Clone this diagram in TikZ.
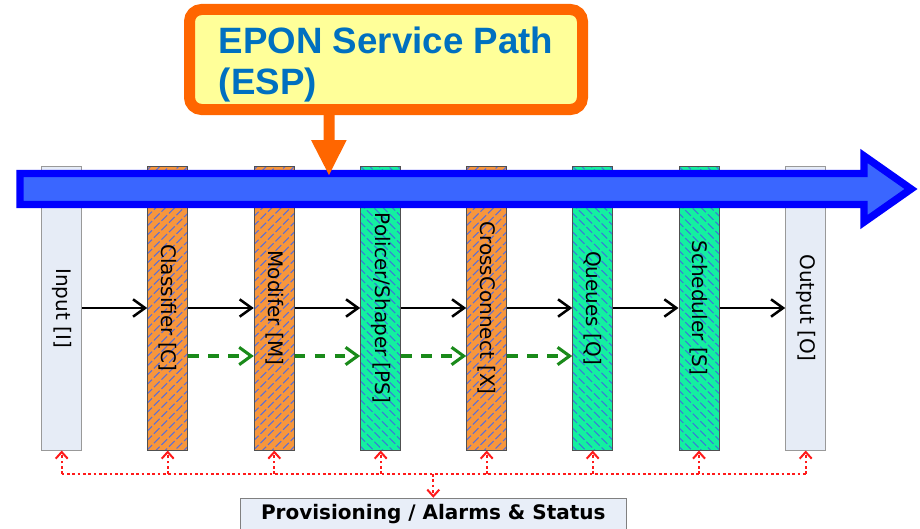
\documentclass[tikz,border=0pt]{standalone}
\usepackage{fontspec}
\newfontfamily\barfont{DejaVu Sans}
\newfontfamily\espfont{Liberation Sans}
\usetikzlibrary{arrows.meta}

\definecolor{orfill}{HTML}{F7963C}
\definecolor{grfill}{HTML}{14F0A0}
\definecolor{orhatch}{HTML}{5A6ED8}
\definecolor{grhatch}{HTML}{3A7AD8}
\definecolor{iofill}{HTML}{E6ECF6}
\definecolor{barline}{HTML}{505050}
\definecolor{espblue}{HTML}{0070C0}
\definecolor{esporange}{HTML}{FF6600}
\definecolor{espyellow}{HTML}{FFFF99}
\definecolor{pathfill}{HTML}{3A66FF}
\definecolor{pathline}{HTML}{0000FF}
\definecolor{provred}{HTML}{FF1A1A}
\definecolor{ctlgreen}{HTML}{1A8A1A}
\definecolor{provfill}{HTML}{E8EEF8}

\tikzset{
  bar/.style={draw=barline, line width=0.75pt, minimum width=30pt, minimum height=213pt, inner sep=0pt},
  barlabel/.style={label={[rotate=-90,font=\barfont\fontsize{15pt}{18pt}\selectfont]center:{#1}}},
  hatch/.style={draw=#1, line width=0.8pt, dash pattern=on 6pt off 2pt},
  iobar/.style={bar, draw=gray!80, fill=iofill, barlabel={#1}},
  orbar/.style={bar, fill=orfill, barlabel={#1},
    path picture={\foreach \k in {-19,...,19}{
      \draw[hatch=orhatch] ([shift={({-16pt},{\k*7pt-16pt})}]path picture bounding box.center) -- ++(32pt,32pt);}}},
  grbar/.style={bar, fill=grfill, barlabel={#1},
    path picture={\foreach \k in {-19,...,19}{
      \draw[hatch=grhatch] ([shift={({-16pt},{\k*7pt+16pt})}]path picture bounding box.center) -- ++(32pt,-32pt);}}},
  flow/.style={draw=black, line width=1.9pt, -{Straight Barb[length=9pt,width=13pt]}},
  ctl/.style={draw=ctlgreen, line width=2.3pt, dash pattern=on 8pt off 7pt, -{Straight Barb[length=9pt,width=13pt]}},
  prov/.style={draw=provred, line width=1.5pt, dash pattern=on 2pt off 2pt},
  provtip/.style={prov, -{Straight Barb[length=5pt,width=9pt]}},
  espline/.style={draw=pathline, fill=pathfill, line width=5.6pt, miter limit=10},
  espbox/.style={draw=esporange, fill=espyellow, line width=8.25pt, rounded corners=9pt,
    minimum width=294.75pt, minimum height=75pt, align=left, inner sep=0pt,
    text=espblue, font=\espfont\bfseries\fontsize{27.5pt}{30.75pt}\selectfont},
  provbox/.style={draw=gray, fill=provfill, line width=1.1pt, minimum width=289.5pt, minimum height=24pt,
    inner sep=0pt, font=\barfont\bfseries\fontsize{15pt}{18pt}\selectfont}
}

\begin{document}
\begin{tikzpicture}[x=0.75pt,y=-0.75pt]
    \useasboundingbox (0,0) rectangle (920,528);
    \clip (0,0) rectangle (920,528);

    % === Blocks ===
    \node[iobar={Input [I]}]          (inp)  at (61.7,308)  {};
    \node[orbar={Classifier [C]}]     (clsf) at (167.7,308) {};
    \node[orbar={Modifer [M]}]        (modf) at (274.3,308) {};
    \node[grbar={Policer/Shaper [PS]}] (pols) at (380.7,308) {};
    \node[orbar={CrossConnect [X]}]   (xcon) at (486.7,308) {};
    \node[grbar={Queues [Q]}]         (que)  at (592.7,308) {};
    \node[grbar={Scheduler [S]}]      (sch)  at (699,308)   {};
    \node[iobar={Output [O]}]         (outp) at (805.7,308) {};

    % data flow
    \draw[flow] (inp) -- (clsf);
    \draw[flow] (clsf) -- (modf);
    \draw[flow] (modf) -- (pols);
    \draw[flow] (pols) -- (xcon);
    \draw[flow] (xcon) -- (que);
    \draw[flow] (que) -- (sch);
    \draw[flow] (sch) -- (outp);

    % dashed green path
    \draw[ctl] ([yshift=-36pt]clsf.east) -- ([yshift=-36pt]modf.west);
    \draw[ctl] ([yshift=-36pt]modf.east) -- ([yshift=-36pt]pols.west);
    \draw[ctl] ([yshift=-36pt]pols.east) -- ([yshift=-36pt]xcon.west);
    \draw[ctl] ([yshift=-36pt]xcon.east) -- ([yshift=-36pt]que.west);

    % === Provisioning ===
    \coordinate (bus) at (433.3,474);
    \node[provbox] (prov) at (433.3,514.5) {Provisioning / Alarms \& Status};
    \draw[prov] (inp.south |- bus) -- (outp.south |- bus);
    \foreach \b in {inp,clsf,modf,pols,xcon,que,sch,outp} {
        \draw[provtip] (\b.south |- bus) -- (\b.south);
    }
    \draw[provtip] (bus) -- (prov.north);

    % === ESP arrow ===
    \draw[espline] (20,173.5) -- (864,173.5) -- (864,156) -- (911,189)
        -- (864,222) -- (864,204.5) -- (20,204.5) -- cycle;

    % callout
    \node[espbox] (esp) at (386,59.5) {\rule{0pt}{27pt}EPON Service Path\\(ESP)};
    \fill[esporange] (323.5,108) -- (334.5,108) -- (334.5,140) -- (346.7,140)
        -- (329,175) -- (311,140) -- (323.5,140) -- cycle;
\end{tikzpicture}
\end{document}
